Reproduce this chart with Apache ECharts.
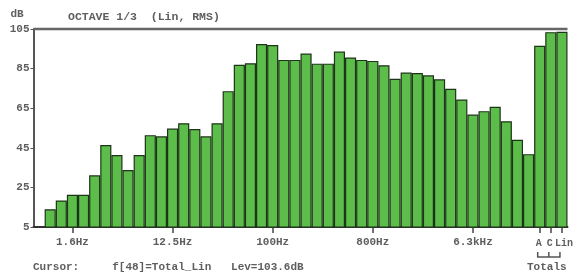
<!DOCTYPE html>
<html>
<head>
<meta charset="utf-8">
<script src="https://cdn.jsdelivr.net/npm/echarts@6/dist/echarts.min.js"></script>
<style>
  html, body { margin: 0; padding: 0; background: #fff; }
  #chart { width: 580px; height: 274px; }
</style>
</head>
<body>
<div id="chart"></div>
<script>
// 1/3 octave bands (0.8Hz .. 20kHz) + totals A, C, Lin
const bands = ['0.8Hz', '1.0Hz', '1.25Hz', '1.6Hz', '2Hz', '2.5Hz', '3.15Hz', '4Hz', '5Hz', '6.3Hz',
  '8Hz', '10Hz', '12.5Hz', '16Hz', '20Hz', '25Hz', '31.5Hz', '40Hz', '50Hz', '63Hz',
  '80Hz', '100Hz', '125Hz', '160Hz', '200Hz', '250Hz', '315Hz', '400Hz', '500Hz', '630Hz',
  '800Hz', '1kHz', '1.25kHz', '1.6kHz', '2kHz', '2.5kHz', '3.15kHz', '4kHz', '5kHz', '6.3kHz',
  '8kHz', '10kHz', '12.5kHz', '16kHz', '20kHz', 'A', 'C', 'Lin'];
// 标注的刻度
const tickLabels = ['1.6Hz', '12.5Hz', '100Hz', '800Hz', '6.3kHz'];
const totals = ['A', 'C', 'Lin'];
const levels = ['-', 14.0, 18.4, 21.3, 21.3, 31.1, 46.4, 41.4, 33.8, 41.4,
  51.4, 50.8, 54.7, 57.4, 54.5, 50.8, 57.4, 73.6, 86.9, 87.7,
  97.4, 96.9, 89.4, 89.4, 92.6, 87.5, 87.5, 93.6, 90.6, 89.4,
  88.9, 86.7, 79.9, 83.0, 82.8, 81.6, 79.6, 74.8, 69.4, 61.8,
  63.5, 65.7, 58.4, 49.1, 41.8, 96.5, 103.4, 103.6];
const yMin = 5, yMax = 105, yStep = 20;

const font = 'Liberation Mono';
const txtColor = '#5e5e5e';

let myChart = echarts.init(document.getElementById('chart'));
let option = {
  animation: false,
  backgroundColor: '#fff',
  grid: { left: 33.5, right: 12.5, top: 29, bottom: 47 },
  xAxis: {
    type: 'category',
    data: bands,
    axisLine: { lineStyle: { color: '#333', width: 2 } },
    axisTick: {
      show: true,
      alignWithLabel: true,
      length: 6,
      lineStyle: { color: '#444', width: 1.5 },
      interval: function (i, v) { return tickLabels.indexOf(v) >= 0 || totals.indexOf(v) >= 0; }
    },
    axisLabel: {
      interval: function (i, v) { return tickLabels.indexOf(v) >= 0; },
      formatter: function (v) { return tickLabels.indexOf(v) >= 0 ? v : ''; },
      color: txtColor, fontFamily: font, fontWeight: 'bold', fontSize: 11, margin: 10
    }
  },
  yAxis: {
    type: 'value',
    min: yMin, max: yMax, interval: yStep,
    splitLine: { show: false },
    axisLine: { show: true, lineStyle: { color: '#555', width: 2 } },
    axisTick: { show: true, length: 3, lineStyle: { color: '#555' } },
    axisLabel: { color: txtColor, fontFamily: font, fontWeight: 'bold', fontSize: 11, margin: 4 }
  },
  series: [{
    type: 'bar',
    data: levels,
    barCategoryGap: 0,
    itemStyle: { color: '#5cbd4b', borderColor: '#1d3517', borderWidth: 1.2 }
  }]
};
myChart.setOption(option);

// 顶部边框 + 文字 + Totals 括号
const tl = myChart.convertToPixel({ gridIndex: 0 }, [0, yMax]);
const br = myChart.convertToPixel({ gridIndex: 0 }, [bands.length - 1, yMin]);
const xA = myChart.convertToPixel({ xAxisIndex: 0 }, 'A');
const xC = myChart.convertToPixel({ xAxisIndex: 0 }, 'C');
const xL = myChart.convertToPixel({ xAxisIndex: 0 }, 'Lin');
const half = (xC - xA) / 2;
const yTop = tl[1];
const yBottom = br[1];
let graphics = [
  { type: 'line', shape: { x1: 33.5, y1: yTop, x2: xL + half, y2: yTop },
    style: { stroke: '#666', lineWidth: 2.5 }, z: 10 },
  { type: 'text', x: 68, y: 17, style: { text: 'OCTAVE 1/3  (Lin, RMS)', fill: txtColor,
    font: 'bold 11.5px ' + font, textVerticalAlign: 'middle' } },
  { type: 'text', x: 17, y: 14, style: { text: 'dB', fill: txtColor,
    font: 'bold 11px ' + font, textAlign: 'center', textVerticalAlign: 'middle' } },
  { type: 'polyline', shape: { points: [[xA - 2, yBottom + 25], [xA - 2, yBottom + 30], [xL - 2, yBottom + 30], [xL - 2, yBottom + 25]] },
    style: { stroke: '#555', lineWidth: 1.5, fill: null } },
  { type: 'line', shape: { x1: xC - 2, y1: yBottom + 25, x2: xC - 2, y2: yBottom + 30 },
    style: { stroke: '#555', lineWidth: 1.5 } },
  { type: 'text', x: (xA + xL) / 2 - 4, y: yBottom + 40, style: { text: 'Totals', fill: txtColor,
    font: 'bold 11px ' + font, textAlign: 'center', textVerticalAlign: 'middle' } },
  { type: 'text', x: 33, y: yBottom + 40, style: { text: 'Cursor:     f[48]=Total_Lin   Lev=103.6dB', fill: txtColor,
    font: 'bold 11px ' + font, textVerticalAlign: 'middle' } }
];
// A / C / Lin 标签
const offs = [-1, -1, 2];
totals.forEach(function (t, i) {
  const x = myChart.convertToPixel({ xAxisIndex: 0 }, t);
  graphics.push({ type: 'text', x: x + offs[i], y: yBottom + 16, style: { text: t, fill: txtColor,
    font: 'bold 10px ' + font, textAlign: 'center', textVerticalAlign: 'middle' } });
});
myChart.setOption({ graphic: graphics });
window.addEventListener('resize', function () {
  myChart.resize();
});
</script>
</body>
</html>
